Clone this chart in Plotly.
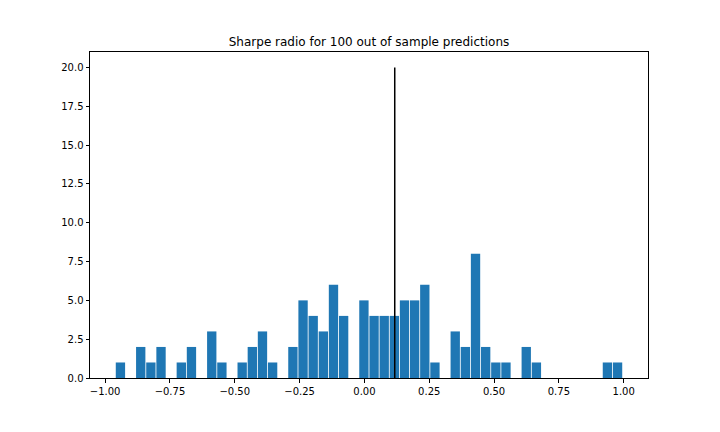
import plotly.graph_objects as go

# Histogram data (50 bins)
bin_min = -0.9606
bin_max = 0.996
counts = [1, 0, 2, 1, 2, 0, 1, 2, 0, 3,
          1, 0, 1, 2, 3, 1, 0, 2, 5, 4,
          3, 6, 4, 0, 5, 4, 4, 4, 5, 5,
          6, 1, 0, 3, 2, 8, 2, 1, 1, 0,
          2, 1, 0, 0, 0, 0, 0, 0, 1, 1]
mean_value = 0.117
line_top = 20

n_bins = len(counts)
bw = (bin_max - bin_min) / n_bins
centers = [bin_min + bw * (i + 0.5) for i in range(n_bins)]

fig = go.Figure()
fig.add_trace(go.Bar(
    x=centers, y=counts, width=[bw * 0.92] * n_bins,
    marker=dict(color="#1f77b4", line=dict(width=0)),
    showlegend=False, hoverinfo="x+y",
))
fig.add_trace(go.Scatter(
    x=[mean_value, mean_value], y=[0, line_top], mode="lines",
    line=dict(color="black", width=1.5), showlegend=False,
))

span = bin_max - bin_min
axis_common = dict(
    showline=True, linecolor="black", linewidth=1, mirror=True,
    ticks="outside", ticklen=3.5, tickwidth=0.8, tickcolor="black",
    showgrid=False, zeroline=False,
    tickfont=dict(family="DejaVu Sans", size=10, color="black"),
)
fig.update_xaxes(range=[bin_min - 0.05 * span, bin_max + 0.05 * span],
                 dtick=0.25, tick0=0, tickformat=".2f", **axis_common)
fig.update_yaxes(range=[0, line_top * 1.05], dtick=2.5, tick0=0,
                 tickformat=".1f", **axis_common)

fig.update_layout(
    width=720, height=432,
    margin=dict(l=82, r=80, t=44, b=62),
    paper_bgcolor="white", plot_bgcolor="white",
    title=dict(text="Sharpe radio for 100 out of sample predictions",
               x=0.5, xref="paper", xanchor="center",
               y=1 - 34 / 432, yref="container", yanchor="middle",
               font=dict(family="DejaVu Sans", size=12, color="black")),
    font=dict(family="DejaVu Sans", size=10, color="black"),
)

fig.write_html("out.html")
